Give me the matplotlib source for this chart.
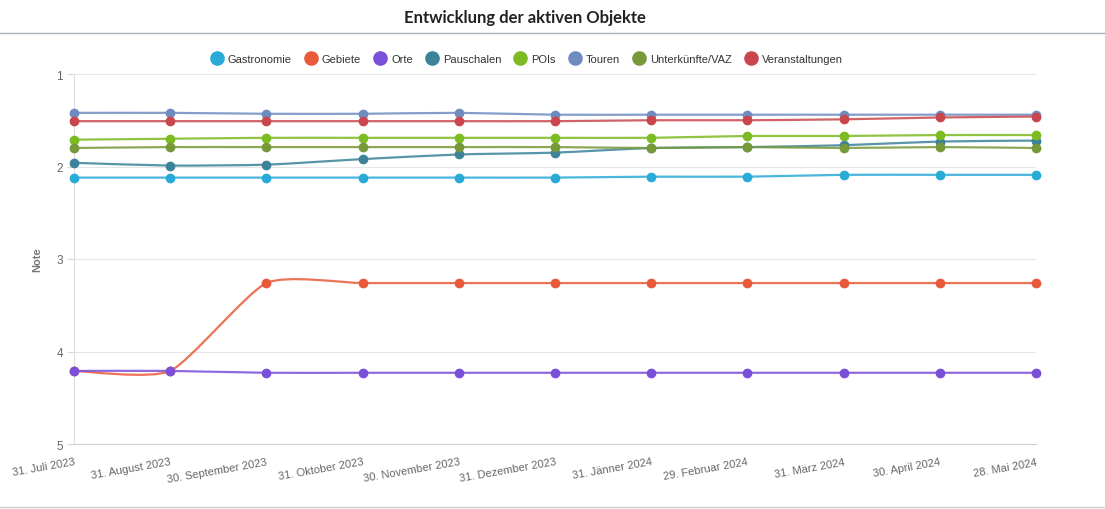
import numpy as np
import matplotlib
matplotlib.use("Agg")
import matplotlib.pyplot as plt
from matplotlib.path import Path
from matplotlib.patches import PathPatch
from matplotlib.lines import Line2D

plt.rcParams['font.family'] = ['Liberation Sans', 'DejaVu Sans']

# Data
dates = ["31. Juli 2023", "31. August 2023", "30. September 2023", "31. Oktober 2023",
         "30. November 2023", "31. Dezember 2023", "31. Jänner 2024", "29. Februar 2024",
         "31. März 2024", "30. April 2024", "28. Mai 2024"]

gastronomie = [2.12, 2.12, 2.12, 2.12, 2.12, 2.12, 2.11, 2.11, 2.09, 2.09, 2.09]
gebiete = [4.21, 4.21, 3.26, 3.26, 3.26, 3.26, 3.26, 3.26, 3.26, 3.26, 3.26]
orte = [4.21, 4.21, 4.23, 4.23, 4.23, 4.23, 4.23, 4.23, 4.23, 4.23, 4.23]
pauschalen = [1.96, 1.99, 1.98, 1.92, 1.87, 1.85, 1.80, 1.79, 1.77, 1.73, 1.72]
pois = [1.71, 1.70, 1.69, 1.69, 1.69, 1.69, 1.69, 1.67, 1.67, 1.66, 1.66]
touren = [1.42, 1.42, 1.43, 1.43, 1.42, 1.44, 1.44, 1.44, 1.44, 1.44, 1.44]
unterkuenfte = [1.80, 1.79, 1.79, 1.79, 1.79, 1.79, 1.80, 1.79, 1.80, 1.79, 1.80]
veranstaltungen = [1.51, 1.51, 1.51, 1.51, 1.51, 1.51, 1.50, 1.50, 1.49, 1.47, 1.46]

series = [
    ("Gastronomie", gastronomie, "#2aaad6"),
    ("Gebiete", gebiete, "#e85a3a"),
    ("Orte", orte, "#7b50d8"),
    ("Pauschalen", pauschalen, "#3c8399"),
    ("POIs", pois, "#7cbb22"),
    ("Touren", touren, "#6f8cc0"),
    ("Unterkünfte/VAZ", unterkuenfte, "#78993a"),
    ("Veranstaltungen", veranstaltungen, "#c9474c"),
]


def spline_path(x, y, k=0.1):
    # cardinal spline through the points, as bezier segments
    pts = np.column_stack([x, y]).astype(float)
    n = len(pts)
    verts = [pts[0]]
    codes = [Path.MOVETO]
    for i in range(n - 1):
        p0 = pts[max(i - 1, 0)]
        p1 = pts[i]
        p2 = pts[i + 1]
        p3 = pts[min(i + 2, n - 1)]
        c1 = p1 + k * (p2 - p0)
        c2 = p2 - k * (p3 - p1)
        verts += [c1, c2, p2]
        codes += [Path.CURVE4] * 3
    return Path(verts, codes)


fig = plt.figure(figsize=(11.05, 5.10), dpi=100)
ax = fig.add_axes([74 / 1105, 65 / 510, 962 / 1105, 370 / 510])

x = np.arange(len(dates))
for name, vals, col in series:
    patch = PathPatch(spline_path(x, vals), facecolor='none', edgecolor=col,
                      lw=1.6, alpha=0.85, zorder=3)
    ax.add_patch(patch)
    ax.plot(x, vals, 'o', color=col, ms=6, zorder=4, clip_on=False)

ax.set_xlim(0, len(dates) - 1)
ax.set_ylim(5, 1)
ax.set_yticks([1, 2, 3, 4, 5])
ax.set_xticks(x)
ax.set_xticklabels(dates, rotation=10, ha='right', va='top', rotation_mode='anchor')
ax.tick_params(axis='x', length=0, pad=9, labelsize=8, labelcolor='#666666')
ax.tick_params(axis='y', length=5, width=0.8, color='#d8d8d8', pad=3,
               labelsize=8.5, labelcolor='#666666')
ax.grid(axis='y', color='#e6e6e6', lw=0.8)
ax.set_axisbelow(True)
for s in ['top', 'right']:
    ax.spines[s].set_visible(False)
ax.spines['left'].set_color('#dddddd')
ax.spines['bottom'].set_color('#d0d0d0')
ax.set_ylabel("Note", fontsize=8, fontweight='bold', color='#777777', labelpad=10)

handles = [Line2D([], [], ls='none', marker='o', ms=9.5, color=col) for _, _, col in series]
fig.legend(handles, [s[0] for s in series], loc='center', bbox_to_anchor=(526 / 1105, 1 - 60 / 510),
           ncol=8, frameon=False, fontsize=8, handletextpad=0.3, columnspacing=1.0,
           handlelength=1.4, labelcolor='#333333')

fig.text(525 / 1105, 1 - 18 / 510, "Entwicklung der aktiven Objekte", ha='center', va='center',
         fontsize=12, fontweight='bold', color='#222222', family=['Lato', 'DejaVu Sans'])
fig.add_artist(Line2D([0, 1], [1 - 34 / 510, 1 - 34 / 510], color='#a8b0b8', lw=1))
fig.add_artist(Line2D([0, 1], [2 / 510, 2 / 510], color='#cccccc', lw=1))

fig.savefig("out.png", dpi=100)
